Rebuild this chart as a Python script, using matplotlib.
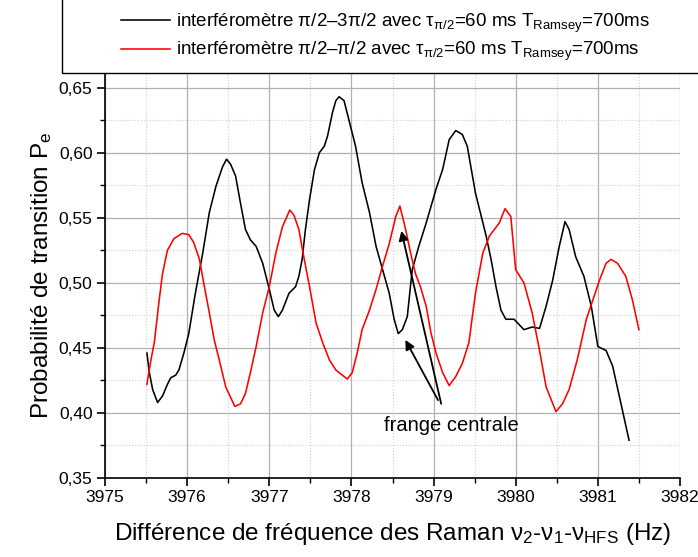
import matplotlib
matplotlib.use("Agg")
from matplotlib import pyplot as plt
from matplotlib.patches import Rectangle
from matplotlib.ticker import MultipleLocator, FuncFormatter

plt.rcParams['font.family'] = ['Liberation Sans', 'DejaVu Sans']
plt.rcParams['mathtext.fontset'] = 'custom'
plt.rcParams['mathtext.rm'] = 'Liberation Sans'
plt.rcParams['mathtext.it'] = 'Liberation Sans'

# interferometre pi/2 - 3pi/2 (black)
freq_black = [3975.51, 3975.54, 3975.58, 3975.64, 3975.70, 3975.76, 3975.80, 3975.86, 3975.90,
              3975.96, 3976.02, 3976.10, 3976.19, 3976.27, 3976.35, 3976.43, 3976.48, 3976.53,
              3976.59, 3976.65, 3976.71, 3976.77, 3976.84, 3976.92, 3977.00, 3977.06, 3977.11,
              3977.16, 3977.24, 3977.32, 3977.36, 3977.40, 3977.44, 3977.49, 3977.55, 3977.61,
              3977.67, 3977.71, 3977.77, 3977.81, 3977.85, 3977.91, 3977.97, 3978.05, 3978.13,
              3978.22, 3978.30, 3978.38, 3978.46, 3978.52, 3978.57, 3978.62, 3978.68, 3978.74,
              3978.82, 3978.91, 3979.03, 3979.11, 3979.19, 3979.27, 3979.35, 3979.41, 3979.51,
              3979.64, 3979.70, 3979.76, 3979.82, 3979.88, 3979.98, 3980.04, 3980.10, 3980.20,
              3980.29, 3980.37, 3980.45, 3980.53, 3980.60, 3980.65, 3980.73, 3980.83, 3980.92,
              3981.00, 3981.10, 3981.18, 3981.38]
pe_black = [0.446, 0.431, 0.418, 0.408, 0.413, 0.422, 0.427, 0.429, 0.433,
            0.446, 0.461, 0.492, 0.523, 0.554, 0.574, 0.589, 0.595, 0.591,
            0.582, 0.561, 0.541, 0.533, 0.528, 0.515, 0.495, 0.479, 0.474,
            0.479, 0.492, 0.497, 0.505, 0.518, 0.541, 0.564, 0.587, 0.600,
            0.605, 0.613, 0.631, 0.640, 0.643, 0.640, 0.625, 0.605, 0.577,
            0.554, 0.528, 0.510, 0.492, 0.472, 0.461, 0.464, 0.474, 0.510,
            0.528, 0.546, 0.572, 0.587, 0.610, 0.617, 0.614, 0.605, 0.569,
            0.536, 0.518, 0.497, 0.479, 0.472, 0.472, 0.468, 0.464, 0.466,
            0.465, 0.482, 0.502, 0.528, 0.547, 0.541, 0.520, 0.505, 0.482,
            0.451, 0.448, 0.436, 0.379]

# interferometre pi/2 - pi/2 (red)
freq_red = [3975.51, 3975.56, 3975.60, 3975.66, 3975.70, 3975.76, 3975.84, 3975.94, 3976.02,
            3976.08, 3976.15, 3976.21, 3976.27, 3976.33, 3976.39, 3976.47, 3976.58, 3976.65,
            3976.71, 3976.77, 3976.84, 3976.92, 3977.00, 3977.08, 3977.16, 3977.25, 3977.30,
            3977.36, 3977.42, 3977.49, 3977.57, 3977.65, 3977.73, 3977.81, 3977.95, 3978.01,
            3978.07, 3978.13, 3978.22, 3978.30, 3978.38, 3978.46, 3978.54, 3978.59, 3978.66,
            3978.72, 3978.78, 3978.84, 3978.91, 3978.97, 3979.03, 3979.11, 3979.19, 3979.27,
            3979.35, 3979.43, 3979.51, 3979.60, 3979.68, 3979.80, 3979.87, 3979.94, 3980.00,
            3980.10, 3980.20, 3980.29, 3980.37, 3980.49, 3980.57, 3980.65, 3980.75, 3980.86,
            3981.02, 3981.10, 3981.16, 3981.24, 3981.34, 3981.42, 3981.50]
pe_red = [0.422, 0.441, 0.454, 0.487, 0.507, 0.525, 0.534, 0.538, 0.537,
          0.531, 0.518, 0.497, 0.477, 0.456, 0.441, 0.420, 0.405, 0.407,
          0.415, 0.431, 0.451, 0.477, 0.497, 0.523, 0.543, 0.556, 0.552,
          0.541, 0.520, 0.497, 0.469, 0.454, 0.441, 0.433, 0.426, 0.431,
          0.446, 0.464, 0.479, 0.495, 0.513, 0.530, 0.551, 0.559, 0.541,
          0.523, 0.507, 0.497, 0.482, 0.461, 0.446, 0.431, 0.421, 0.428,
          0.438, 0.454, 0.492, 0.523, 0.536, 0.546, 0.557, 0.551, 0.510,
          0.500, 0.477, 0.448, 0.420, 0.401, 0.407, 0.418, 0.441, 0.472,
          0.502, 0.515, 0.518, 0.515, 0.505, 0.487, 0.464]

label_black = r"interféromètre π/2–3π/2 avec τ$_{\pi/2}$=60 ms T$_{\mathrm{Ramsey}}$=700ms"
label_red = r"interféromètre π/2–π/2 avec τ$_{\pi/2}$=60 ms T$_{\mathrm{Ramsey}}$=700ms"

fig = plt.figure(figsize=(6.98, 5.57), dpi=100)
ax = fig.add_axes([105/698, 1-478/557, 575/698, 406/557])

l1, = ax.plot(freq_black, pe_black, color="black", lw=1.15)
l2, = ax.plot(freq_red, pe_red, color="red", lw=1.15)

ax.set_xlim(3975, 3982)
ax.set_ylim(0.35, 0.662)
ax.xaxis.set_major_locator(MultipleLocator(1))
ax.xaxis.set_minor_locator(MultipleLocator(0.5))
ax.yaxis.set_major_locator(MultipleLocator(0.05))
ax.yaxis.set_minor_locator(MultipleLocator(0.025))
ax.yaxis.set_major_formatter(FuncFormatter(lambda v, p: ("%.2f" % v).replace(".", ",")))
ax.grid(which="major", color="#b0b0b0", lw=0.9)
ax.grid(which="minor", color="#cfcfcf", lw=0.8, ls=":")
ax.set_axisbelow(True)
ax.spines["top"].set_visible(False)
ax.spines["right"].set_visible(False)
ax.spines["left"].set_linewidth(1.2)
ax.spines["bottom"].set_linewidth(1.2)
ax.tick_params(which="major", direction="out", length=6, width=1.2, labelsize=12.5, pad=3)
ax.tick_params(which="minor", direction="out", length=3.5, width=1.0)

ax.set_xlabel(r"Différence de fréquence des Raman ν$_2$-ν$_1$-ν$_{\mathrm{HFS}}$ (Hz)", fontsize=17.5, labelpad=11)
ax.set_ylabel(r"Probabilité de transition P$_e$", fontsize=17.5, labelpad=3)

# frange centrale annotation
ax.annotate("", xy=(3978.64, 0.458), xytext=(3979.07, 0.408),
            arrowprops=dict(arrowstyle="-|>", color="black", lw=1.3, mutation_scale=14))
ax.annotate("", xy=(3978.60, 0.542), xytext=(3979.10, 0.405),
            arrowprops=dict(arrowstyle="-|>", color="black", lw=1.3, mutation_scale=14))
ax.text(3978.40, 0.390, "frange centrale", fontsize=14.5, va="center", ha="left")

# legend box at the top
fig.patches.append(Rectangle((62/698, 1-73/557), 640/698, 75/557, transform=fig.transFigure,
                             facecolor="white", edgecolor="black", lw=1.0))
fig.legend([l1, l2], [label_black, label_red], loc="upper left",
           bbox_to_anchor=(104/698, 1.01), frameon=False, fontsize=13.5,
           handlelength=2.6, handletextpad=0.35, labelspacing=0.3)

fig.savefig("out.png", dpi=100)
